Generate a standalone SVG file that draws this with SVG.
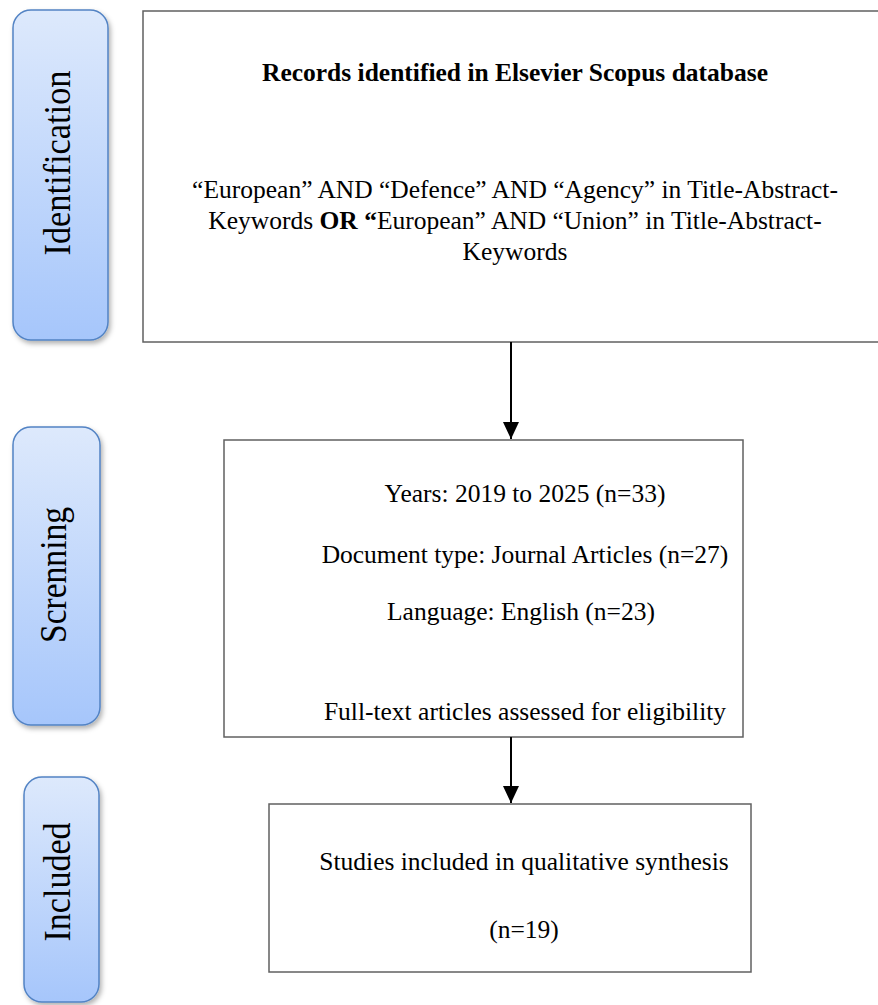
<svg xmlns="http://www.w3.org/2000/svg" width="878" height="1005" viewBox="0 0 878 1005">
  <defs>
    <linearGradient id="stageFill" x1="0" y1="0" x2="0" y2="1">
      <stop offset="0" stop-color="#dde9fc"/>
      <stop offset="1" stop-color="#a6c6fb"/>
    </linearGradient>
    <filter id="shadow" x="-20%" y="-10%" width="150%" height="130%">
      <feDropShadow dx="2" dy="3" stdDeviation="2.5" flood-color="#000" flood-opacity="0.3"/>
    </filter>
    <marker id="arrow" markerWidth="17" markerHeight="16" refX="17" refY="8" orient="auto" markerUnits="userSpaceOnUse" viewBox="0 0 17 16">
      <path d="M0,0 L17,8 L0,16 Z" fill="#000"/>
    </marker>
  </defs>
  <style>
    .stage { fill: url(#stageFill); stroke: #5283c4; stroke-width: 1.5; filter: url(#shadow); }
    .stageText { font-family: "Liberation Serif", "Times New Roman", serif; font-size: 37px; fill: #000; text-anchor: middle; }
    .box { fill: #fff; stroke: #606060; stroke-width: 1.5; }
    .txt { font-family: "Liberation Serif", "Times New Roman", serif; font-size: 25.5px; fill: #000; text-anchor: middle; }
    .bold { font-weight: bold; }
    .conn { stroke: #000; stroke-width: 2; fill: none; }
  </style>
  <rect width="878" height="1005" fill="#fff"/>

  <g id="stage-identification">
    <rect class="stage" x="13" y="10" width="95" height="330" rx="18" ry="18"/>
    <text class="stageText" transform="translate(70,163) rotate(-90)" textLength="185" lengthAdjust="spacingAndGlyphs">Identification</text>
  </g>
  <g id="stage-screening">
    <rect class="stage" x="13" y="427" width="87" height="298" rx="18" ry="18"/>
    <text class="stageText" transform="translate(66,575) rotate(-90)" textLength="136" lengthAdjust="spacingAndGlyphs">Screnning</text>
  </g>
  <g id="stage-included">
    <rect class="stage" x="24" y="777" width="75" height="225" rx="18" ry="18"/>
    <text class="stageText" transform="translate(70,882) rotate(-90)" textLength="119" lengthAdjust="spacingAndGlyphs">Included</text>
  </g>

  <g id="node-records">
    <rect class="box" x="143" y="11" width="760" height="331"/>
    <text class="txt bold" x="515" y="81">Records identified in Elsevier Scopus database</text>
    <text class="txt" x="515" y="198">“European” AND “Defence” AND “Agency” in Title-Abstract-</text>
    <text class="txt" x="515" y="229">Keywords <tspan class="bold">OR “</tspan>European” AND “Union” in Title-Abstract-</text>
    <text class="txt" x="515" y="260">Keywords</text>
  </g>

  <g id="node-screening">
    <rect class="box" x="224" y="440" width="519" height="297"/>
    <text class="txt" x="525" y="502">Years: 2019 to 2025 (n=33)</text>
    <text class="txt" x="525" y="563">Document type: Journal Articles (n=27)</text>
    <text class="txt" x="521" y="620">Language: English (n=23)</text>
    <text class="txt" x="525" y="720">Full-text articles assessed for eligibility</text>
  </g>

  <g id="node-included">
    <rect class="box" x="269" y="804" width="482" height="168"/>
    <text class="txt" x="524" y="870">Studies included in qualitative synthesis</text>
    <text class="txt" x="524" y="938">(n=19)</text>
  </g>

  <g id="connectors">
    <line class="conn" x1="511" y1="342" x2="511" y2="439" marker-end="url(#arrow)"/>
    <line class="conn" x1="511" y1="737" x2="511" y2="803" marker-end="url(#arrow)"/>
  </g>
</svg>
